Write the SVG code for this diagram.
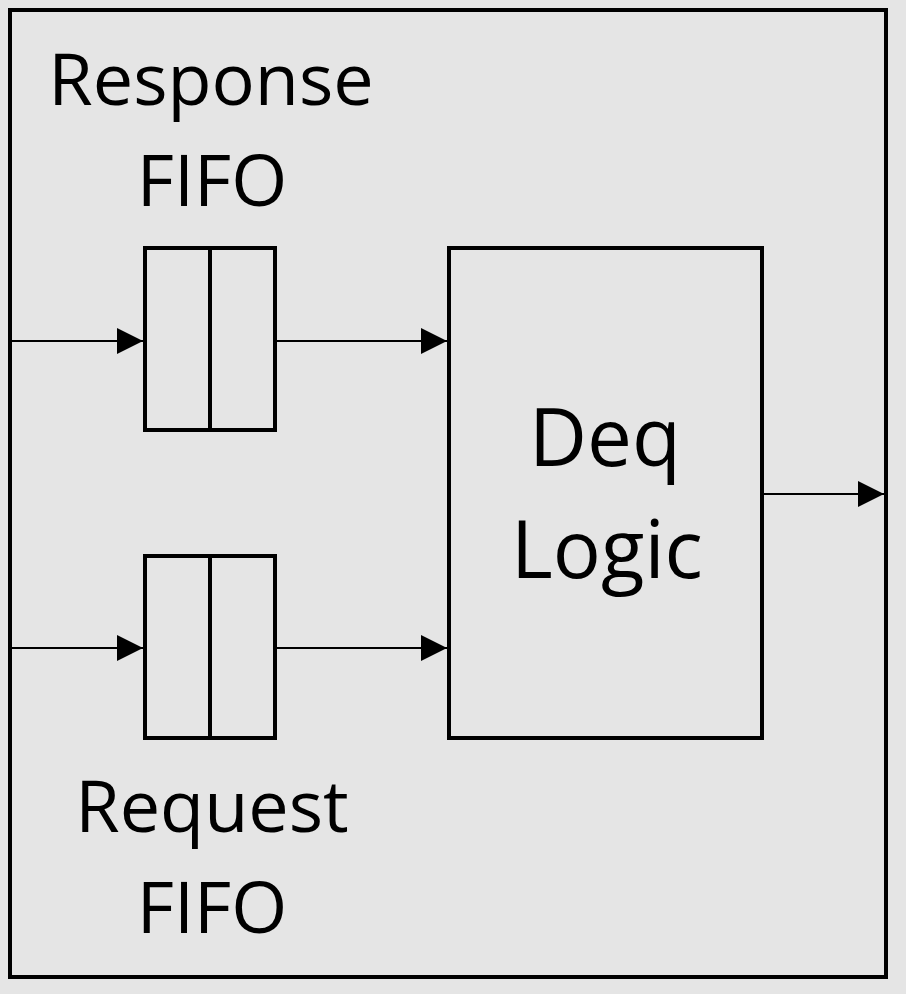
<svg xmlns="http://www.w3.org/2000/svg" width="906" height="994" viewBox="0 0 906 994">
<style>
.box{fill:none;stroke:#000;stroke-width:4}
.wire{fill:none;stroke:#000;stroke-width:2}
.lbl{font-family:"Open Sans","Noto Sans",sans-serif;fill:#000;text-anchor:middle}
</style>
<defs>
<marker id="ah" markerUnits="userSpaceOnUse" markerWidth="26" markerHeight="28" refX="26" refY="14" orient="auto">
<path d="M0,1 L26,14 L0,27 Z" fill="#000"/>
</marker>
</defs>
<rect x="0" y="0" width="906" height="994" fill="#e5e5e5"/>
<g id="outer">
<rect class="box" x="10" y="10" width="876" height="967"/>
</g>
<g id="response-fifo">
<rect class="box" x="145" y="248" width="130" height="182"/>
<line class="box" x1="210" y1="248" x2="210" y2="430"/>
<text class="lbl" x="211" y="105" font-size="72">Response</text>
<text class="lbl" x="212" y="206" font-size="72">FIFO</text>
</g>
<g id="request-fifo">
<rect class="box" x="145" y="556" width="130" height="182"/>
<line class="box" x1="210" y1="556" x2="210" y2="738"/>
<text class="lbl" x="212" y="832" font-size="72">Request</text>
<text class="lbl" x="212" y="933" font-size="72">FIFO</text>
</g>
<g id="deq-logic">
<rect class="box" x="449" y="248" width="313" height="490"/>
<text class="lbl" x="605" y="466" font-size="80">Deq</text>
<text class="lbl" x="607" y="578" font-size="80">Logic</text>
</g>
<g id="connectors">
<line class="wire" x1="10" y1="341" x2="143" y2="341" marker-end="url(#ah)"/>
<line class="wire" x1="275" y1="341" x2="447" y2="341" marker-end="url(#ah)"/>
<line class="wire" x1="10" y1="648" x2="143" y2="648" marker-end="url(#ah)"/>
<line class="wire" x1="275" y1="648" x2="447" y2="648" marker-end="url(#ah)"/>
<line class="wire" x1="762" y1="494" x2="884" y2="494" marker-end="url(#ah)"/>
</g>
</svg>
